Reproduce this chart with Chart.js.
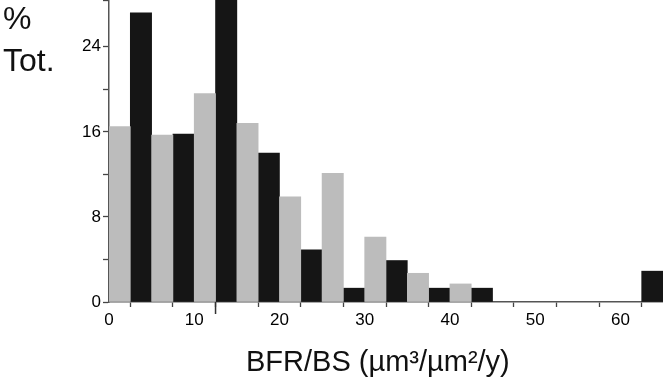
<!DOCTYPE html>
<html>
<head>
<meta charset="utf-8">
<script src="https://cdn.jsdelivr.net/npm/chart.js@4"></script>
<style>
  html, body { margin: 0; padding: 0; background: #fff; }
  #wrap { position: relative; width: 663px; height: 384px; }
  .lab { position: absolute; font-family: "Liberation Sans", Arial, sans-serif; color: #111; line-height: 1; white-space: nowrap; }
  .ylab { left: 3px; font-size: 32px; }
  .xlab { left: 246px; top: 347px; font-size: 29px; }
</style>
</head>
<body>
<div id="wrap">
  <canvas id="bfrChart" width="663" height="384"></canvas>
  <div class="lab ylab" style="top:2px;">%</div>
  <div class="lab ylab" style="top:44px;">Tot.</div>
  <div class="lab xlab">BFR/BS (µm³/µm²/y)</div>
</div>
<script>
// Bin start values (width 2.5) and % of total
const binWidth = 2.5;
const greyBins = [0, 5, 10, 15, 20, 25, 30, 35, 40];
const greyPct = [16.5, 15.7, 19.6, 16.8, 9.9, 12.1, 6.1, 2.7, 1.7];
const blackBins = [2.5, 7.5, 12.5, 17.5, 22.5, 27.5, 32.5, 37.5, 42.5, 62.5];
const blackPct = [27.2, 15.8, 29.5, 14.0, 4.9, 1.3, 3.9, 1.3, 1.3, 2.9];

// x tick values 0..65 every 5, labelled every 10; y every 4, labelled every 8
const xLabelEvery = 10;
const yLabelEvery = 8;

// Helper to turn bins into {x, y} points at bin centres
function toPoints(bins, values) {
    return bins.map((b, i) => ({ x: b + binWidth / 2, y: values[i] }));
}

// Small plugin for the odd long tick under the axis at 12.5
const longTick = {
    id: 'longTick',
    afterDraw(chart) {
        const ctx = chart.ctx;
        const xs = chart.scales.x;
        const px = xs.getPixelForValue(12.5);
        ctx.save();
        ctx.strokeStyle = '#333';
        ctx.lineWidth = 1.5;
        ctx.beginPath();
        ctx.moveTo(px, chart.chartArea.bottom);
        ctx.lineTo(px, chart.chartArea.bottom + 12);
        ctx.stroke();
        ctx.restore();
    }
};

const ctx = document.getElementById('bfrChart').getContext('2d');
new Chart(ctx, {
    type: 'bar',
    data: {
        datasets: [
            {
                label: 'grey',
                data: toPoints(greyBins, greyPct),
                backgroundColor: '#bcbcbc',
                grouped: false,
                barPercentage: 1,
                categoryPercentage: 1
            },
            {
                label: 'black',
                data: toPoints(blackBins, blackPct),
                backgroundColor: '#151515',
                grouped: false,
                barPercentage: 1,
                categoryPercentage: 1
            }
        ]
    },
    options: {
        responsive: false,
        animation: false,
        layout: { padding: 0 },
        plugins: {
            legend: { display: false },
            tooltip: { enabled: false }
        },
        scales: {
            x: {
                type: 'linear',
                min: 0,
                max: 65,
                offset: false,
                afterFit: s => { s.height = 82; s.paddingRight = 0; s.paddingLeft = 0; },
                grid: { drawOnChartArea: false, tickLength: 5, tickColor: '#444', tickWidth: 1.3 },
                border: { color: '#555', width: 1.5 },
                ticks: {
                    stepSize: 5,
                    autoSkip: false,
                    maxRotation: 0,
                    padding: 3,
                    color: '#000',
                    font: { family: '"Liberation Sans", Arial, sans-serif', size: 17 },
                    callback: v => (v % xLabelEvery === 0 ? v : '')
                }
            },
            y: {
                min: 0,
                max: 28.4,
                afterFit: s => { s.width = 109; s.paddingTop = 0; s.paddingBottom = 0; },
                grid: { drawOnChartArea: false, tickLength: 6, tickColor: '#444', tickWidth: 1.3 },
                border: { color: '#555', width: 1.5 },
                ticks: {
                    stepSize: 4,
                    autoSkip: false,
                    padding: 2,
                    color: '#000',
                    font: { family: '"Liberation Sans", Arial, sans-serif', size: 17 },
                    callback: v => (v % yLabelEvery === 0 ? v : '')
                }
            }
        }
    },
    plugins: [longTick]
});
</script>
</body>
</html>
